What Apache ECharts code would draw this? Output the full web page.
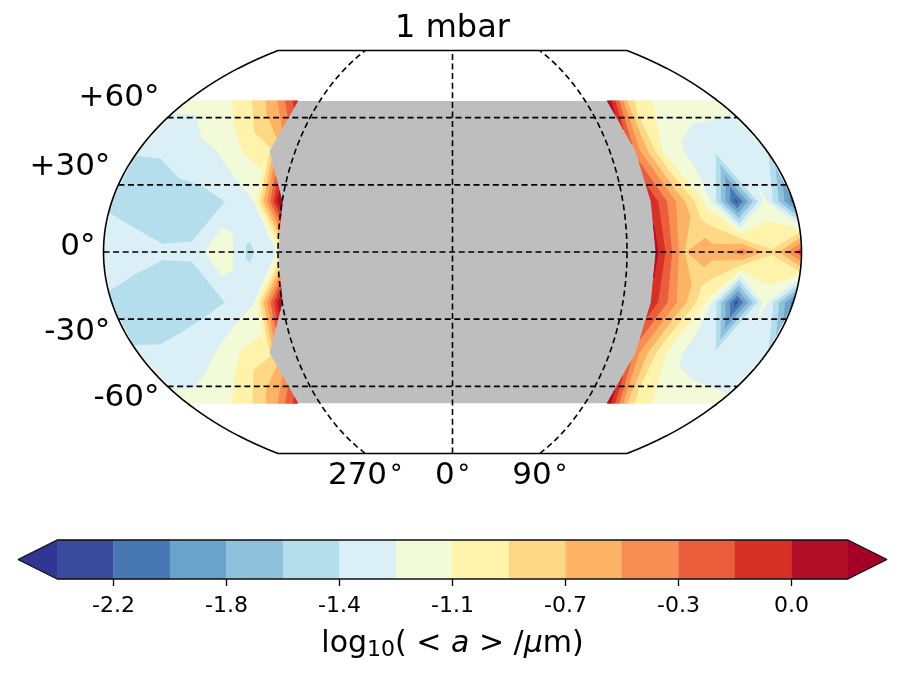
<!DOCTYPE html>
<html>
<head>
<meta charset="utf-8">
<script src="https://cdn.jsdelivr.net/npm/echarts@6/dist/echarts.min.js"></script>
<style>html,body{margin:0;background:#fff}#chart{width:905px;height:675px}</style>
</head>
<body>
<div id="chart"></div>
<script>
// grid of the model, 15 deg / 22.5 deg, null = no cloud
var lons = [-180,-165,-150,-135,-120,-105,-90,-75,-60,-45,-30,-15,0,15,30,45,60,75,90,105,120,135,150,165,180];
var lats = [67.5,45,22.5,0,-22.5,-45,-67.5];
var row_n675 = [-1.2,-1.19,-1.08,-0.875,-0.57,-0.03,null,null,null,null,null,null,null,null,null,null,null,null,null,0.2,-0.83,-1.07,-1.12,-1.2,-1.2];
var row_n45 = [-1.435,-1.422,-1.32,-1.26,-1.07,-0.95,null,null,null,null,null,null,null,null,null,null,null,null,null,-0.42,-1.07,-1.3,-1.42,-1.35,-1.42];
var row_n225 = [-1.5,-1.55,-1.55,-1.52,-1.44,-1.26,0.3,null,null,null,null,null,null,null,null,null,null,null,null,-0.01,-0.6,-1.15,-2.25,-1.2,-2.1];
var row_0 = [-1.25,-1.35,-1.42,-1.42,-1.08,-1.49,-1.24,null,null,null,null,null,null,null,null,null,null,null,null,0.1,-0.705,-0.62,-0.42,-0.87,-0.2];
var row_s225 = [-1.5,-1.56,-1.55,-1.53,-1.44,-1.27,0.27,null,null,null,null,null,null,null,null,null,null,null,null,-0.02,-0.58,-1.12,-2.27,-1.18,-2.08];
var row_s45 = [-1.43,-1.417,-1.367,-1.25,-1.05,-0.95,null,null,null,null,null,null,null,null,null,null,null,null,null,-0.45,-1.03,-1.32,-1.42,-1.37,-1.42];
var row_s675 = [-1.2,-1.18,-1.08,-0.88,-0.57,-0.04,null,null,null,null,null,null,null,null,null,null,null,null,null,0.2,-0.83,-1.07,-1.12,-1.2,-1.22];
var rows = [row_n675,row_n45,row_n225,row_0,row_s225,row_s45,row_s675];

var levels = [-2.365,-2.18,-1.995,-1.81,-1.625,-1.44,-1.255,-1.07,-0.885,-0.7,-0.515,-0.33,-0.145,0.04,0.225];
var colors = ['#3a4b9e','#4878b4','#6ba3cb','#8fc1dd','#b4deec','#dbeff6','#f3fad8','#fff3ac','#fed885','#fdb366','#f98e52','#ec5d3b','#d73027','#b10f26'];
var underColor = '#313695';
var overColor = '#a50026';
var cbarTicks = [-2.18,-1.81,-1.44,-1.07,-0.7,-0.33,0.04];

var latLines = [60,30,0,-30,-60];
var latLabels = ['+60°','+30°','0°','-30°','-60°'];
var lonLines = [-90,0,90];
var lonLabels = ['270','0','90'];

var PI = Math.PI;
var XMAX = 1.5 * Math.sqrt(PI * PI / 3);

// Kavrayskiy VII
function kav7(lon, lat) {
    var phi = lat * PI / 180;
    return [1.5 * (lon / 180) * Math.sqrt(PI * PI / 3 - phi * phi), phi];
}

// keep the part of a polygon where v >= lim (sign 1) or v <= lim (sign -1)
function clipPoly(poly, lim, sign) {
    var out = [];
    for (var i = 0; i < poly.length; i++) {
        var a = poly[i], b = poly[(i + 1) % poly.length];
        var ain = (a[2] - lim) * sign >= 0, bin = (b[2] - lim) * sign >= 0;
        if (ain) out.push(a);
        if (ain !== bin) {
            var t = (lim - a[2]) / (b[2] - a[2]);
            out.push([a[0] + t * (b[0] - a[0]), a[1] + t * (b[1] - a[1]), lim]);
        }
    }
    return out;
}

var polys = [];
function addCell(poly) {
    for (var k = 0; k < colors.length; k++) {
        var p = clipPoly(poly, levels[k], 1);
        if (p.length) p = clipPoly(p, levels[k + 1], -1);
        if (p.length > 2) polys.push({color: colors[k], pts: p});
    }
    var over = clipPoly(poly, levels[levels.length - 1], 1);
    if (over.length > 2) polys.push({color: overColor, pts: over});
}

for (var j = 0; j < lats.length - 1; j++) {
    for (var i = 0; i < lons.length - 1; i++) {
        var corners = [[i, j], [i + 1, j], [i + 1, j + 1], [i, j + 1]];
        var cell = [];
        corners.forEach(function (c) {
            var v = rows[c[1]][c[0]];
            if (v !== null) {
                var xy = kav7(lons[c[0]], lats[c[1]]);
                cell.push([xy[0], xy[1], v]);
            }
        });
        if (cell.length < 3) continue;
        var saddle = cell.length === 4 &&
            (Math.min(cell[0][2], cell[2][2]) > Math.max(cell[1][2], cell[3][2]) ||
             Math.min(cell[1][2], cell[3][2]) > Math.max(cell[0][2], cell[2][2]));
        if (saddle) {
            var mid = [0, 0, 0];
            cell.forEach(function (c) { mid[0] += c[0] / 4; mid[1] += c[1] / 4; mid[2] += c[2] / 4; });
            for (var s = 0; s < 4; s++) addCell([cell[s], cell[(s + 1) % 4], mid]);
        } else {
            addCell(cell);
        }
    }
}

// grey below the contours, only needs to fill the hole on the night side
var greyPts = [];
lats.forEach(function (la) { greyPts.push(kav7(-120, la)); });
lats.slice().reverse().forEach(function (la) { greyPts.push(kav7(120, la)); });

function dashedSeries(data) {
    return {
        type: 'line', xAxisIndex: 0, yAxisIndex: 0, data: data, showSymbol: false, symbol: 'none', z: 5,
        clip: false, silent: true,
        lineStyle: {color: '#000', width: 1.6, type: [6, 3.6]}
    };
}

function lineOfLat(la) {
    return [kav7(-180, la), kav7(180, la)];
}
function lineOfLon(lo) {
    var a = [];
    for (var la = -90; la <= 90; la += 3) a.push(kav7(lo, la));
    return a;
}

var outline = [];
for (var la = -90; la <= 90; la += 2) outline.push(kav7(180, la));
for (la = 90; la >= -90; la -= 2) outline.push(kav7(-180, la));
outline.push(kav7(180, -90));

var graticule = [];
latLines.forEach(function (la) { graticule.push(dashedSeries(lineOfLat(la))); });
lonLines.forEach(function (lo) { graticule.push(dashedSeries(lineOfLon(lo))); });

var latLabelShift = [[-8, -20], [-8, -18], [-8, -5], [-8, 13], [-8, 12]];

var extra = (levels[1] - levels[0]) * 39 / 56.43;
var cmin = levels[0] - extra, cmax = levels[levels.length - 1] + extra;

var cbarBands = [];
colors.forEach(function (c, k) { cbarBands.push([levels[k], levels[k + 1], c]); });

var option = {
    animation: false,
    backgroundColor: '#fff',
    textStyle: {fontFamily: 'DejaVu Sans'},
    title: {
        text: '1 mbar', left: 'center', top: 8,
        textStyle: {fontFamily: 'DejaVu Sans', fontSize: 32, fontWeight: 'normal', color: '#000'}
    },
    grid: [
        {left: 103.5, width: 698, top: 50.5, height: 403},
        {left: 18, width: 869, top: 540, height: 39}
    ],
    xAxis: [
        {type: 'value', gridIndex: 0, min: -XMAX, max: XMAX, show: false},
        {
            type: 'value', gridIndex: 1, min: cmin, max: cmax,
            splitLine: {show: false},
            axisLine: {show: false},
            axisTick: {show: true, length: 7, customValues: cbarTicks, lineStyle: {color: '#000', width: 1.3}},
            axisLabel: {
                customValues: cbarTicks, fontSize: 22, color: '#000', margin: 16, fontFamily: 'DejaVu Sans',
                formatter: function (v) { return v.toFixed(1); }
            },
            name: '{t|log}{s|10}{t|( < }{i|a}{t| > /}{i|μ}{t|m)}',
            nameLocation: 'middle', nameGap: 48,
            nameTextStyle: {
                rich: {
                    t: {fontFamily: 'DejaVu Sans', fontSize: 30, color: '#000'},
                    i: {fontFamily: 'DejaVu Sans', fontStyle: 'italic', fontSize: 30, color: '#000'},
                    s: {fontFamily: 'DejaVu Sans', fontSize: 22, color: '#000', verticalAlign: 'bottom', padding: [12, 0, 0, 0]}
                }
            }
        }
    ],
    yAxis: [
        {type: 'value', gridIndex: 0, min: -PI / 2, max: PI / 2, show: false},
        {type: 'value', gridIndex: 1, min: 0, max: 1, show: false}
    ],
    series: [
        {
            type: 'custom', coordinateSystem: 'cartesian2d', xAxisIndex: 0, yAxisIndex: 0, z: 1, silent: true, clip: false,
            data: [[0, 0]],
            renderItem: function (params, api) {
                return {type: 'polygon', shape: {points: greyPts.map(function (p) { return api.coord(p); })}, style: {fill: '#bebebe'}};
            }
        },
        {
            type: 'custom', coordinateSystem: 'cartesian2d', xAxisIndex: 0, yAxisIndex: 0, z: 2, silent: true, clip: false,
            data: polys.map(function (p, i) { return [i, 0]; }),
            renderItem: function (params, api) {
                var p = polys[params.dataIndex];
                return {
                    type: 'polygon',
                    shape: {points: p.pts.map(function (q) { return api.coord([q[0], q[1]]); })},
                    style: {fill: p.color, stroke: p.color, lineWidth: 1}
                };
            }
        }
    ].concat(graticule).concat([
        {
            type: 'line', xAxisIndex: 0, yAxisIndex: 0, data: outline, symbol: 'none', z: 6, clip: false, silent: true,
            lineStyle: {color: '#000', width: 1.6}
        },
        {
            type: 'scatter', xAxisIndex: 0, yAxisIndex: 0, symbolSize: 0, z: 7, silent: true, clip: false,
            itemStyle: {opacity: 1},
            data: latLines.map(function (la, i) { return {value: kav7(-180, la), name: latLabels[i],
                label: {offset: latLabelShift[i]}}; }),
            label: {show: true, position: 'left', distance: 0, formatter: '{b}', fontSize: 31, color: '#000', fontFamily: 'DejaVu Sans'}
        },
        {
            type: 'scatter', xAxisIndex: 0, yAxisIndex: 0, symbolSize: 0, z: 7, silent: true, clip: false,
            itemStyle: {opacity: 1},
            data: lonLines.map(function (lo, i) { return {value: kav7(lo, -90), name: lonLabels[i]}; }),
            label: {
                show: true, position: 'bottom', distance: 7, formatter: '{d|{b}}{o|°}',
                rich: {
                    d: {fontSize: 31, color: '#000', fontFamily: 'DejaVu Sans'},
                    o: {fontSize: 25, color: '#000', fontFamily: 'DejaVu Sans', padding: [0, 0, 2, 3]}
                }
            }
        },
        // colorbar
        {
            type: 'custom', coordinateSystem: 'cartesian2d', xAxisIndex: 1, yAxisIndex: 1, z: 2, silent: true, clip: false,
            data: cbarBands.map(function (b) { return [b[0], b[1]]; }),
            renderItem: function (params, api) {
                var b = cbarBands[params.dataIndex];
                var p0 = api.coord([b[0], 0]), p1 = api.coord([b[1], 1]);
                return {type: 'rect', shape: {x: p0[0], y: p1[1], width: p1[0] - p0[0], height: p0[1] - p1[1]},
                    style: {fill: b[2], stroke: b[2], lineWidth: 0.3}};
            }
        },
        {
            type: 'custom', coordinateSystem: 'cartesian2d', xAxisIndex: 1, yAxisIndex: 1, z: 3, silent: true, clip: false,
            data: [[cmin, underColor], [cmax, overColor]],
            renderItem: function (params, api) {
                var under = params.dataIndex === 0;
                var tip = under ? cmin : cmax, base = under ? levels[0] : levels[levels.length - 1];
                return {type: 'polygon', shape: {points: [api.coord([tip, 0.5]), api.coord([base, 0]), api.coord([base, 1])]},
                    style: {fill: under ? underColor : overColor}};
            }
        },
        {
            type: 'line', xAxisIndex: 1, yAxisIndex: 1, symbol: 'none', z: 4, clip: false, silent: true,
            data: [[cmin, 0.5], [levels[0], 1], [levels[levels.length - 1], 1], [cmax, 0.5], [levels[levels.length - 1], 0], [levels[0], 0], [cmin, 0.5]],
            lineStyle: {color: '#111', width: 1.3}
        }
    ])
};

var chart = echarts.init(document.getElementById('chart'));
chart.setOption(option);
</script>
</body>
</html>
